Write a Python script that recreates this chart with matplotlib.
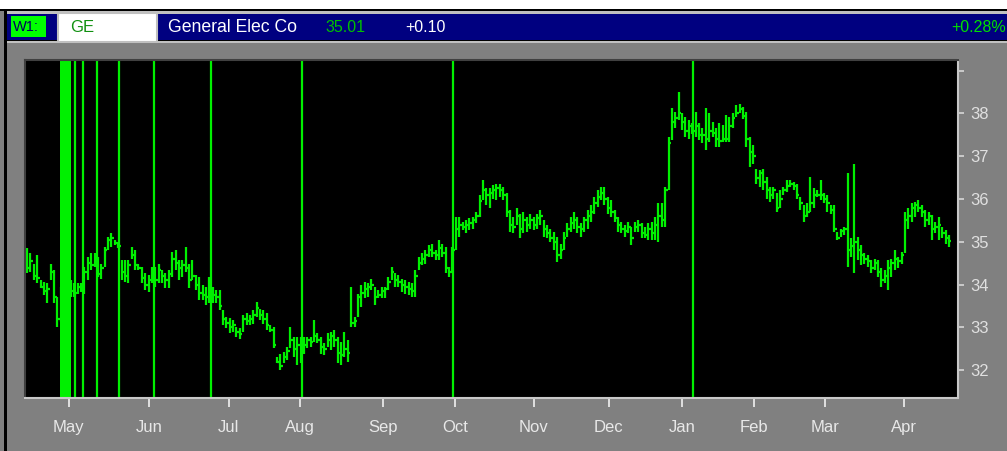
import numpy as np
import matplotlib
matplotlib.use("Agg")
from matplotlib import pyplot as plt
from matplotlib.patches import Rectangle

# daily bars, mid-April to mid-April (high / low / close)
highs = [34.85, 34.73, 34.49, 34.69, 34.11, 34.07, 34.03, 34.49, 34.34, 33.72,
         33.95, 34.03, 34.18, 34.11, 34.03, 34.03, 34.03, 34.42, 34.65, 34.73,
         34.73, 34.65, 34.49, 34.88, 35.12, 35.20, 35.04, 35.00, 34.57, 34.57,
         34.57, 34.88, 34.81, 34.49, 34.42, 34.26, 34.22, 34.42, 34.42, 34.49,
         34.34, 34.26, 34.34, 34.77, 34.81, 34.57, 34.57, 34.88, 34.49, 34.57,
         34.22, 34.18, 33.99, 33.95, 34.18, 33.95, 33.87, 33.87, 33.40, 33.25,
         33.21, 33.17, 33.01, 32.98, 33.29, 33.33, 33.29, 33.40, 33.60, 33.44,
         33.40, 33.33, 33.05, 33.01, 32.31, 32.39, 32.43, 32.55, 33.01, 32.78,
         32.78, 32.78, 32.78, 32.78, 32.78, 33.17, 32.86, 32.78, 32.63, 32.86,
         32.90, 32.94, 32.78, 32.66, 32.90, 32.70, 33.95, 33.25, 33.79, 33.99,
         34.07, 34.03, 34.14, 33.95, 33.87, 33.95, 33.95, 34.18, 34.42, 34.26,
         34.22, 34.14, 34.11, 34.07, 34.03, 34.34, 34.65, 34.73, 34.81, 34.92,
         34.96, 34.81, 35.04, 34.96, 34.88, 34.42, 34.88, 35.58, 35.58, 35.47,
         35.51, 35.55, 35.58, 35.70, 36.09, 36.44, 36.25, 36.25, 36.33, 36.36,
         36.36, 36.29, 36.13, 35.74, 35.58, 35.78, 35.66, 35.70, 35.58, 35.66,
         35.58, 35.66, 35.74, 35.51, 35.39, 35.31, 35.24, 35.12, 34.96, 35.24,
         35.43, 35.58, 35.70, 35.58, 35.43, 35.58, 35.74, 35.86, 36.05, 36.21,
         36.29, 36.29, 36.05, 35.97, 35.74, 35.58, 35.47, 35.39, 35.47, 35.35,
         35.47, 35.51, 35.43, 35.35, 35.43, 35.47, 35.58, 35.90, 35.90, 36.29,
         37.45, 38.12, 38.04, 38.51, 38.00, 37.92, 37.84, 37.77, 38.04, 37.77,
         37.65, 38.12, 38.00, 37.80, 37.65, 37.77, 37.73, 37.96, 37.92, 38.00,
         38.19, 38.23, 38.15, 38.04, 37.45, 37.26, 36.71, 36.67, 36.71, 36.52,
         36.29, 36.29, 36.13, 36.21, 36.29, 36.44, 36.44, 36.40, 36.36, 36.05,
         35.86, 35.90, 36.52, 36.25, 36.21, 36.44, 36.13, 36.09, 35.86, 35.86,
         35.24, 35.31, 35.35, 36.60, 35.08, 36.83, 35.12, 34.92, 34.73, 34.69,
         34.57, 34.61, 34.57, 34.38, 34.34, 34.57, 34.61, 34.81, 34.65, 34.77,
         35.70, 35.78, 35.90, 35.94, 35.97, 35.86, 35.74, 35.70, 35.62, 35.47,
         35.58, 35.35, 35.27, 35.16]
lows = [34.26, 34.30, 34.11, 34.03, 33.91, 33.75, 33.56, 34.11, 33.56, 33.01,
        33.13, 33.25, 33.40, 33.72, 33.72, 33.79, 33.83, 33.79, 34.11, 34.34,
        34.42, 34.18, 34.14, 34.42, 34.81, 34.88, 34.92, 34.85, 34.11, 34.07,
        34.03, 34.61, 34.34, 34.34, 34.03, 33.87, 33.83, 34.03, 33.95, 34.03,
        34.03, 33.91, 33.91, 34.18, 34.34, 34.11, 34.18, 34.30, 33.91, 34.10,
        33.87, 33.64, 33.64, 33.52, 33.56, 33.56, 33.56, 33.40, 33.05, 32.98,
        32.86, 32.90, 32.78, 32.74, 32.90, 33.05, 33.05, 33.09, 33.25, 33.17,
        33.09, 32.94, 32.90, 32.51, 32.16, 32.00, 32.16, 32.24, 32.51, 32.31,
        32.12, 32.16, 32.39, 32.51, 32.55, 32.66, 32.63, 32.39, 32.35, 32.55,
        32.47, 32.55, 32.16, 32.12, 32.30, 32.20, 33.00, 33.02, 33.25, 33.48,
        33.68, 33.72, 33.87, 33.52, 33.68, 33.68, 33.68, 33.87, 34.11, 33.95,
        33.95, 33.83, 33.79, 33.75, 33.72, 33.72, 34.34, 34.46, 34.49, 34.65,
        34.65, 34.57, 34.57, 34.65, 34.26, 34.18, 34.26, 34.81, 35.12, 35.27,
        35.20, 35.27, 35.31, 35.43, 35.58, 35.97, 35.86, 35.78, 36.01, 35.97,
        36.05, 35.97, 35.58, 35.24, 35.20, 35.39, 35.08, 35.20, 35.24, 35.31,
        35.27, 35.31, 35.39, 35.12, 35.08, 35.00, 34.81, 34.53, 34.61, 34.81,
        35.12, 35.24, 35.31, 35.20, 35.12, 35.24, 35.31, 35.47, 35.66, 35.82,
        35.97, 35.86, 35.66, 35.58, 35.47, 35.24, 35.20, 35.12, 35.20, 34.92,
        35.24, 35.24, 35.08, 35.08, 35.04, 35.04, 35.04, 35.00, 35.35, 35.35,
        36.21, 37.38, 37.65, 37.84, 37.61, 37.45, 37.41, 37.53, 37.45, 37.38,
        37.30, 37.14, 37.34, 37.45, 37.22, 37.22, 37.34, 37.34, 37.34, 37.65,
        37.92, 38.00, 37.88, 37.22, 36.75, 36.83, 36.36, 36.29, 36.21, 36.01,
        35.94, 36.01, 35.70, 35.78, 36.09, 36.17, 36.29, 36.21, 36.01, 35.74,
        35.47, 35.59, 35.70, 35.78, 36.05, 35.97, 35.90, 35.70, 35.66, 35.24,
        35.04, 35.12, 35.16, 34.42, 34.65, 34.26, 34.57, 34.46, 34.49, 34.42,
        34.26, 34.34, 34.18, 33.95, 34.03, 33.87, 34.18, 34.34, 34.38, 34.49,
        34.73, 35.31, 35.47, 35.58, 35.70, 35.58, 35.35, 35.39, 35.04, 35.20,
        35.04, 35.08, 34.96, 34.88]
closes = [34.40, 34.55, 34.20, 34.15, 33.95, 33.85, 33.90, 34.30, 33.70, 33.20,
          33.60, 33.80, 33.90, 33.85, 33.80, 33.95, 33.90, 34.30, 34.50, 34.45,
          34.60, 34.25, 34.40, 34.80, 35.05, 35.10, 34.98, 34.90, 34.30, 34.20,
          34.45, 34.70, 34.45, 34.40, 34.15, 34.00, 34.10, 34.30, 34.10, 34.35,
          34.20, 34.10, 34.25, 34.60, 34.50, 34.40, 34.45, 34.40, 34.10, 34.20,
          34.00, 33.80, 33.75, 33.70, 33.95, 33.75, 33.70, 33.50, 33.20, 33.10,
          33.00, 33.05, 32.90, 32.85, 33.20, 33.15, 33.20, 33.30, 33.45, 33.30,
          33.20, 33.05, 32.95, 32.60, 32.20, 32.10, 32.30, 32.45, 32.70, 32.50,
          32.60, 32.55, 32.60, 32.70, 32.65, 32.80, 32.70, 32.55, 32.50, 32.70,
          32.80, 32.70, 32.40, 32.35, 32.50, 32.40, 33.10, 33.15, 33.70, 33.80,
          33.90, 33.95, 34.00, 33.70, 33.75, 33.85, 33.90, 34.05, 34.30, 34.10,
          34.05, 34.00, 33.95, 33.90, 33.85, 34.20, 34.50, 34.60, 34.70, 34.80,
          34.75, 34.70, 34.85, 34.75, 34.40, 34.30, 34.80, 35.30, 35.40, 35.35,
          35.40, 35.45, 35.50, 35.60, 35.95, 36.20, 36.10, 36.15, 36.20, 36.25,
          36.20, 36.10, 35.70, 35.40, 35.35, 35.60, 35.30, 35.50, 35.40, 35.50,
          35.40, 35.55, 35.60, 35.30, 35.20, 35.10, 35.00, 34.70, 34.80, 35.10,
          35.30, 35.45, 35.50, 35.35, 35.30, 35.50, 35.60, 35.70, 35.90, 36.05,
          36.15, 36.00, 35.80, 35.70, 35.55, 35.40, 35.30, 35.25, 35.35, 35.10,
          35.35, 35.40, 35.20, 35.15, 35.30, 35.20, 35.40, 35.60, 35.50, 36.20,
          37.30, 37.80, 37.90, 38.00, 37.80, 37.60, 37.70, 37.60, 37.70, 37.50,
          37.50, 37.40, 37.60, 37.55, 37.40, 37.35, 37.40, 37.40, 37.70, 37.90,
          38.00, 38.10, 37.95, 37.40, 37.10, 37.00, 36.50, 36.60, 36.40, 36.20,
          36.10, 36.20, 35.80, 36.00, 36.20, 36.30, 36.35, 36.30, 36.10, 35.90,
          35.60, 35.70, 35.90, 36.10, 36.10, 36.10, 36.00, 35.90, 35.75, 35.30,
          35.10, 35.25, 35.30, 34.80, 34.90, 35.00, 34.80, 34.70, 34.60, 34.55,
          34.40, 34.50, 34.30, 34.10, 34.20, 34.40, 34.50, 34.60, 34.55, 34.70,
          35.50, 35.60, 35.80, 35.85, 35.80, 35.70, 35.50, 35.60, 35.30, 35.35,
          35.40, 35.20, 35.10, 35.01]

# full-height marker lines (bar index) and the solid block near the start
spike_days = [14.2, 16.5, 20.6, 27.2, 37.6, 54.5, 81.4, 126.1, 197.3]
spike_block = (9.8, 12.9)

month_pos = [12.4, 36.1, 59.8, 80.8, 105.4, 126.7, 150.1, 172.3, 194.0, 215.3, 236.3, 259.7]
month_labels = ["May", "Jun", "Jul", "Aug", "Sep", "Oct", "Nov", "Dec", "Jan", "Feb", "Mar", "Apr"]
price_ticks = [32, 33, 34, 35, 36, 37, 38, 39]

symbol = "GE"
name = "General Elec Co"
last = "35.01"
change = "+0.10"
pct = "+0.28%"

W, H = 1007, 451
GREEN = "#00f000"
plt.rcParams["font.family"] = ["Liberation Sans", "DejaVu Sans"]

fig = plt.figure(figsize=(W / 100, H / 100), dpi=100, facecolor="#808080")


def box(x, y, w, h, color, **kw):
    fig.add_artist(Rectangle((x / W, 1 - (y + h) / H), w / W, h / H,
                             transform=fig.transFigure, facecolor=color,
                             edgecolor=kw.get("ec", "none"), lw=kw.get("lw", 0)))


def txt(x, y, s, color, ha="left", size=12):
    fig.text(x / W, 1 - y / H, s, color=color, ha=ha, va="center", fontsize=size)


# window chrome / header bar
box(0, 0, W, 9, "white")
box(0, 9, W, 2, "black")
box(4, 9, 3, H - 9, "black")
box(7, 11, W - 7, 3, "#c0c0c0")
box(7, 14, W - 7, 26, "#000080")
box(7, 40, W - 7, 1, "black")
box(7, 41, W - 7, 2, "#c0c0c0")
box(11, 16, 35, 21, "#00ff00")
box(58, 13, 99, 29, "white", ec="#c0c0c0", lw=1.5)
txt(13, 27, "W1:", "#000060", size=10.5)
txt(70, 28, symbol, "#109010", size=12)
txt(168, 27, name, "white", size=12.7)
txt(325, 27, last, "#00c000", size=11.5)
txt(405, 27, change, "white", size=11.5)
txt(1006, 27, pct, "#00e000", ha="right", size=11.5)

ax = fig.add_axes([25 / W, 1 - 398 / H, 933 / W, 338 / H])
ax.set_facecolor("black")

x = np.arange(len(highs))
ax.axvspan(spike_block[0], spike_block[1], color=GREEN, lw=0)
for d in spike_days:
    ax.axvline(d, color=GREEN, lw=1.6)
ax.vlines(x, lows, highs, colors=GREEN, lw=1.6)
ax.hlines(closes, x, x + 0.75, colors=GREEN, lw=1.6)

ax.set_xlim(-0.6, 275.7)
ax.set_ylim(31.35, 39.25)

ax.set_xticks(month_pos)
ax.set_xticklabels(month_labels)
ax.set_yticks(price_ticks)
ax.set_yticklabels([str(p) if p < 39 else "" for p in price_ticks])
ax.yaxis.tick_right()
ax.tick_params(axis="x", direction="out", length=6.5, width=1.3, color="#e8e8e8",
               labelcolor="#e8e8e8", labelsize=12, pad=9.5)
ax.tick_params(axis="y", direction="out", length=4.5, width=1.3, color="#d0d0d0",
               labelcolor="#e0e0e0", labelsize=12, pad=4.5)

for side, col in [("left", "#404040"), ("top", "#404040"),
                  ("bottom", "#c8c8c8"), ("right", "#c8c8c8")]:
    ax.spines[side].set_color(col)
    ax.spines[side].set_linewidth(1.5)

fig.savefig("out.png", dpi=100, facecolor=fig.get_facecolor())
